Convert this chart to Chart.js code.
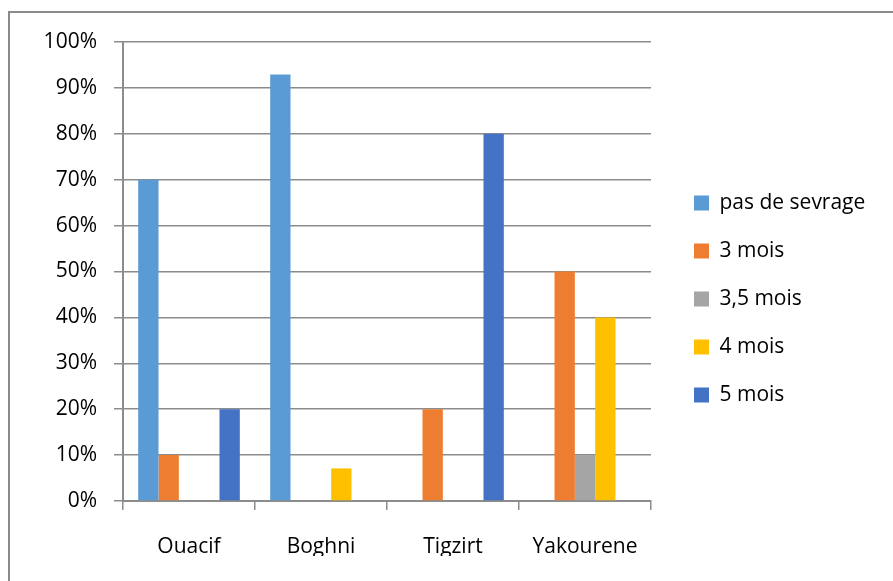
<!DOCTYPE html>
<html>
<head>
<meta charset="utf-8">
<script src="https://cdn.jsdelivr.net/npm/chart.js@4.4.1/dist/chart.umd.min.js"></script>
<style>
  html, body { margin: 0; padding: 0; background: #fff; overflow: hidden; }
  #wrap { position: relative; width: 893px; height: 581px; }
  #frame {
    position: absolute; left: 8px; top: 11px; width: 900px; height: 600px;
    border-left: 2px solid #8a8a8a; border-top: 2px solid #8a8a8a;
    pointer-events: none;
  }
</style>
</head>
<body>
<div id="wrap">
  <canvas id="sevrageChart" width="893" height="581"></canvas>
  <div id="frame"></div>
</div>
<script>
const regions = ["Ouacif", "Boghni", "Tigzirt", "Yakourene"];
const seriesNames = ["pas de sevrage", "3 mois", "3,5 mois", "4 mois", "5 mois"];
const pasDeSevrage = [70, 92.9, 0, 0];
const troisMois = [10, 0, 20, 50];
const troisEtDemiMois = [0, 0, 0, 10];
const quatreMois = [0, 7.1, 0, 40];
const cinqMois = [20, 0, 80, 0];
const seriesColors = ["#5b9bd5", "#ed7d31", "#a5a5a5", "#ffc000", "#4472c4"];

const seriesValues = [pasDeSevrage, troisMois, troisEtDemiMois, quatreMois, cinqMois];

const fontFamily = "'Open Sans', sans-serif";
const fontSize = 21;
const gridGrey = "#8c8c8c";

Chart.defaults.font.family = fontFamily;
Chart.defaults.font.size = fontSize;
Chart.defaults.color = "#000";

// legend sits right of the plot, first box at x=694
const legendPad = 27;
const legendBox = 15;
const measureCtx = document.createElement("canvas").getContext("2d");
measureCtx.font = fontSize + "px " + fontFamily;
const longest = Math.max(...seriesNames.map((n) => measureCtx.measureText(n).width));
const legendWidth = legendPad + legendBox + fontSize / 2 + longest + 10;
const legendLeft = 694 - legendPad;
const rightPad = Math.max(0, 893 - legendLeft - legendWidth);

new Chart(document.getElementById("sevrageChart"), {
  type: "bar",
  data: {
    labels: regions,
    datasets: seriesNames.map((name, i) => ({
      label: name,
      data: seriesValues[i],
      backgroundColor: seriesColors[i],
      borderWidth: 0,
      categoryPercentage: 0.77,
      barPercentage: 1,
    })),
  },
  options: {
    responsive: false,
    animation: false,
    devicePixelRatio: 1,
    layout: { padding: { left: 0, top: 42, right: rightPad, bottom: 25 } },
    plugins: {
      tooltip: { enabled: false },
      legend: {
        position: "right",
        maxWidth: 400,
        labels: {
          boxWidth: legendBox,
          boxHeight: legendBox,
          padding: legendPad,
          font: { size: fontSize },
          color: "#000",
        },
      },
    },
    scales: {
      x: {
        grid: {
          display: true,
          drawOnChartArea: false,
          drawTicks: true,
          tickLength: 9,
          offset: true,
          color: gridGrey,
          lineWidth: 1.5,
        },
        border: { color: gridGrey, width: 2 },
        ticks: { padding: 24, font: { size: fontSize }, color: "#000" },
        afterFit: (scale) => { scale.height = 55; },
      },
      y: {
        min: 0,
        max: 100,
        grid: { color: gridGrey, lineWidth: 1.5, tickLength: 9 },
        border: { color: gridGrey, width: 2 },
        ticks: {
          stepSize: 10,
          padding: 17,
          font: { size: fontSize },
          color: "#000",
          callback: (v) => v + "%",
        },
        afterFit: (scale) => { scale.width = 123; },
      },
      gap: {
        type: "linear",
        position: "right",
        display: true,
        grid: { display: false },
        border: { display: false },
        ticks: { display: false },
        afterFit: (scale) => { scale.width = legendLeft - 651; },
      },
    },
  },
});
</script>
</body>
</html>
